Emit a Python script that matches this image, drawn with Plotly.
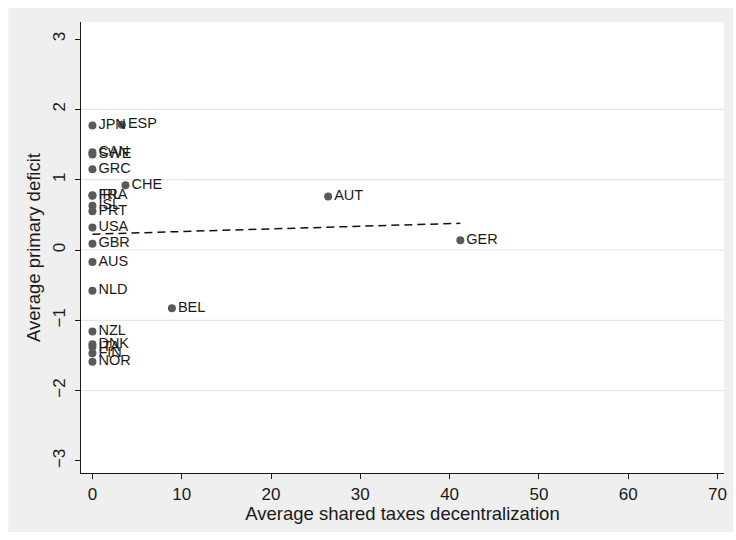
import plotly.graph_objects as go

# Country codes with average shared-taxes decentralization (%) and average primary deficit (% of GDP)
countries = ["JPN", "ESP", "CAN", "SWE", "GRC", "CHE", "FRA", "IRL", "ISL", "PRT", "USA",
             "GBR", "AUS", "NLD", "BEL", "NZL", "DNK", "ITA", "FIN", "NOR", "AUT", "GER"]
shared_taxes = [0.0, 3.3, 0.0, 0.0, 0.0, 3.7, 0.0, 0.0, 0.0, 0.0, 0.0,
                0.0, 0.0, 0.0, 8.9, 0.0, 0.0, 0.0, 0.0, 0.0, 26.4, 41.2]
primary_deficit = [1.77, 1.78, 1.39, 1.36, 1.15, 0.92, 0.78, 0.77, 0.63, 0.55, 0.32,
                   0.09, -0.17, -0.58, -0.83, -1.16, -1.34, -1.38, -1.47, -1.59, 0.76, 0.14]

# Fitted values of the linear fit over the observed range
fit_x = [0.0, 41.2]
fit_y = [0.225, 0.38]

x_ticks = [0, 10, 20, 30, 40, 50, 60, 70]
y_ticks = [-3, -2, -1, 0, 1, 2, 3]
grid_y = [-2, -1, 0, 1, 2]

W, H = 736, 540
ML, MR, MT, MB = 81, 9, 22, 67
pw, ph = W - ML - MR, H - MT - MB

def px_to_paper_x(px):
    return (px - ML) / pw

def px_to_paper_y(py):
    return (H - MB - py) / ph

FONT = "Liberation Sans, Arial, sans-serif"
INK = "#1a1a1a"

fig = go.Figure()

fig.add_trace(go.Scatter(
    x=shared_taxes, y=primary_deficit, mode="markers+text",
    text=countries, textposition="middle right",
    textfont=dict(family=FONT, size=14.5, color=INK),
    marker=dict(size=8, color="#5a5a5a", line=dict(width=0)),
    cliponaxis=False, hoverinfo="text"))

fig.add_trace(go.Scatter(
    x=fit_x, y=fit_y, mode="lines",
    line=dict(color="#111111", width=1.5, dash="8px,5px"),
    hoverinfo="skip"))

shapes = [
    # outer grey panel
    dict(type="rect", xref="paper", yref="paper", layer="below",
         x0=px_to_paper_x(8), x1=px_to_paper_x(W), y0=px_to_paper_y(532), y1=px_to_paper_y(8),
         fillcolor="#efefef", line=dict(width=0)),
    # white plot region
    dict(type="rect", xref="paper", yref="paper", layer="below",
         x0=0, x1=1, y0=0, y1=1, fillcolor="white", line=dict(width=0)),
]
for gy in grid_y:
    shapes.append(dict(type="line", xref="paper", yref="y", layer="below",
                       x0=0, x1=1, y0=gy, y1=gy, line=dict(color="#e6e6e6", width=1.2)))

fig.update_layout(
    width=W, height=H,
    margin=dict(l=ML, r=MR, t=MT, b=MB),
    paper_bgcolor="white", plot_bgcolor="rgba(0,0,0,0)",
    showlegend=False, shapes=shapes,
    font=dict(family=FONT, color=INK),
)

fig.update_xaxes(
    range=[-1.28, 70.73], tickvals=x_ticks, ticktext=[str(v) for v in x_ticks],
    showgrid=False, zeroline=False,
    showline=True, linecolor=INK, linewidth=1.2,
    ticks="outside", ticklen=5, tickcolor=INK, tickwidth=1,
    tickfont=dict(family=FONT, size=17, color=INK),
    title=dict(text="Average shared taxes decentralization",
               font=dict(family=FONT, size=18.5, color=INK), standoff=2),
)
fig.update_yaxes(
    range=[-3.172, 3.243], tickvals=y_ticks,
    showgrid=False, zeroline=False,
    showline=True, linecolor=INK, linewidth=1.2,
    ticks="outside", ticklen=5, tickcolor=INK, tickwidth=1,
    tickangle=-90, ticklabelstandoff=3,
    tickfont=dict(family=FONT, size=17, color=INK),
    title=dict(text="Average primary deficit",
               font=dict(family=FONT, size=18.5, color=INK), standoff=4),
)

fig.write_html("out.html")
